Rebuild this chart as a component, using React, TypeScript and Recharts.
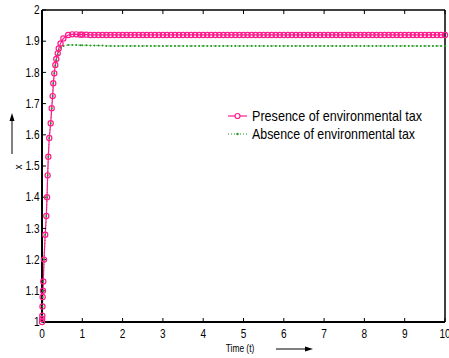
import React from 'react';
import { LineChart, Line, XAxis, YAxis, Legend } from 'recharts';

// time samples: solver steps are dense during the rise, then every 0.1
const TIME = [
  0, 0.004, 0.008, 0.012, 0.016, 0.024, 0.032, 0.05, 0.08, 0.107,
  0.125, 0.14, 0.157, 0.18, 0.216, 0.24, 0.265, 0.28, 0.305, 0.33,
  0.355, 0.39, 0.415, 0.46, 0.53, 0.65, 0.75, 0.85, 0.95,
  1.0, 1.1, 1.2, 1.3, 1.4, 1.5, 1.6, 1.7, 1.8, 1.9,
  2.0, 2.1, 2.2, 2.3, 2.4, 2.5, 2.6, 2.7, 2.8, 2.9,
  3.0, 3.1, 3.2, 3.3, 3.4, 3.5, 3.6, 3.7, 3.8, 3.9,
  4.0, 4.1, 4.2, 4.3, 4.4, 4.5, 4.6, 4.7, 4.8, 4.9,
  5.0, 5.1, 5.2, 5.3, 5.4, 5.5, 5.6, 5.7, 5.8, 5.9,
  6.0, 6.1, 6.2, 6.3, 6.4, 6.5, 6.6, 6.7, 6.8, 6.9,
  7.0, 7.1, 7.2, 7.3, 7.4, 7.5, 7.6, 7.7, 7.8, 7.9,
  8.0, 8.1, 8.2, 8.3, 8.4, 8.5, 8.6, 8.7, 8.8, 8.9,
  9.0, 9.1, 9.2, 9.3, 9.4, 9.5, 9.6, 9.7, 9.8, 9.9,
  10.0,
];

const PRESENCE = [
  1.0, 1.01, 1.02, 1.05, 1.08, 1.1, 1.13, 1.2, 1.28, 1.34,
  1.4, 1.47, 1.53, 1.59, 1.637, 1.685, 1.724, 1.765, 1.797, 1.824,
  1.843, 1.861, 1.877, 1.893, 1.909, 1.92, 1.922, 1.922, 1.921,
  1.921, 1.921, 1.92, 1.92, 1.92, 1.92, 1.92, 1.92, 1.92, 1.92,
  1.92, 1.92, 1.92, 1.92, 1.92, 1.92, 1.92, 1.92, 1.92, 1.92,
  1.92, 1.92, 1.92, 1.92, 1.92, 1.92, 1.92, 1.92, 1.92, 1.92,
  1.92, 1.92, 1.92, 1.92, 1.92, 1.92, 1.92, 1.92, 1.92, 1.92,
  1.92, 1.92, 1.92, 1.92, 1.92, 1.92, 1.92, 1.92, 1.92, 1.92,
  1.92, 1.92, 1.92, 1.92, 1.92, 1.92, 1.92, 1.92, 1.92, 1.92,
  1.92, 1.92, 1.92, 1.92, 1.92, 1.92, 1.92, 1.92, 1.92, 1.92,
  1.92, 1.92, 1.92, 1.92, 1.92, 1.92, 1.92, 1.92, 1.92, 1.92,
  1.92, 1.92, 1.92, 1.92, 1.92, 1.92, 1.92, 1.92, 1.92, 1.92,
  1.92,
];

const ABSENCE = [
  1.0, 1.01, 1.02, 1.05, 1.08, 1.1, 1.13, 1.2, 1.28, 1.34,
  1.4, 1.47, 1.53, 1.59, 1.637, 1.685, 1.724, 1.765, 1.797, 1.822,
  1.84, 1.857, 1.868, 1.879, 1.885, 1.888, 1.888, 1.888, 1.887,
  1.887, 1.887, 1.886, 1.886, 1.886, 1.886, 1.885, 1.885, 1.885, 1.885,
  1.885, 1.885, 1.885, 1.885, 1.885, 1.885, 1.885, 1.885, 1.885, 1.885,
  1.885, 1.885, 1.885, 1.885, 1.885, 1.885, 1.885, 1.885, 1.885, 1.885,
  1.885, 1.885, 1.885, 1.885, 1.885, 1.885, 1.885, 1.885, 1.885, 1.885,
  1.885, 1.885, 1.885, 1.885, 1.885, 1.885, 1.885, 1.885, 1.885, 1.885,
  1.885, 1.885, 1.885, 1.885, 1.885, 1.885, 1.885, 1.885, 1.885, 1.885,
  1.885, 1.885, 1.885, 1.885, 1.885, 1.885, 1.885, 1.885, 1.885, 1.885,
  1.885, 1.885, 1.885, 1.885, 1.885, 1.885, 1.885, 1.885, 1.885, 1.885,
  1.885, 1.885, 1.885, 1.885, 1.885, 1.885, 1.885, 1.885, 1.885, 1.885,
  1.885,
];

const X_TICKS = [0, 1, 2, 3, 4, 5, 6, 7, 8, 9, 10];
const Y_TICKS = [1, 1.1, 1.2, 1.3, 1.4, 1.5, 1.6, 1.7, 1.8, 1.9, 2];

const SERIES_NAMES = ['Presence of environmental tax', 'Absence of environmental tax'];

const PINK = '#ff1a8c';
const GREEN = '#1f9a1f';
const FONT = "'Liberation Sans', Arial, sans-serif";
const NARROW = 0.84;

const data = TIME.map((t, i) => ({ t, presence: PRESENCE[i], absence: ABSENCE[i] }));

// narrow Helvetica look: squeeze the glyphs horizontally around the anchor
function XTick(props: any) {
  const { x, y, payload } = props;
  return (
    <text transform={`translate(${x},${y}) scale(${NARROW},1)`} textAnchor="middle" dy="0.71em" fontSize={12} fontFamily={FONT} fill="#000">
      {payload.value}
    </text>
  );
}

function YTick(props: any) {
  const { x, y, payload } = props;
  const label = String(Math.round(payload.value * 10) / 10);
  return (
    <text transform={`translate(${x},${y}) scale(${NARROW},1)`} textAnchor="end" dy="0.355em" fontSize={12} fontFamily={FONT} fill="#000">
      {label}
    </text>
  );
}

const NoTick = () => <g />;

function LegendBox() {
  return (
    <svg width={210} height={40} style={{ display: 'block', overflow: 'visible' }}>
      <line x1={2} x2={21} y1={10} y2={10} stroke={PINK} strokeWidth={1.2} />
      <circle cx={11.5} cy={10} r={2.5} fill="#fff" stroke={PINK} strokeWidth={1.2} />
      <text x={26} y={15} fontSize={15} fontFamily={FONT} fill="#000" textLength={170} lengthAdjust="spacingAndGlyphs">{SERIES_NAMES[0]}</text>
      <line x1={2} x2={21} y1={28} y2={28} stroke={GREEN} strokeWidth={1} strokeDasharray="1 2" />
      <circle cx={11.5} cy={28} r={1.2} fill={GREEN} />
      <text x={26} y={33} fontSize={15} fontFamily={FONT} fill="#000" textLength={163} lengthAdjust="spacingAndGlyphs">{SERIES_NAMES[1]}</text>
    </svg>
  );
}

export default function App() {
  return (
    <div style={{ position: 'absolute', left: 0, top: 0, width: 449, height: 358, background: '#fff' }}>
      <LineChart width={449} height={358} data={data} margin={{ top: 9, right: 3, bottom: 0, left: 0 }}>
        <XAxis
          type="number"
          dataKey="t"
          domain={[0, 10]}
          ticks={X_TICKS}
          interval={0}
          height={36}
          tickSize={-4}
          tickMargin={11.5}
          axisLine={{ stroke: '#000', strokeWidth: 2 }}
          tickLine={{ stroke: '#000' }}
          tick={<XTick />}
        />
        <XAxis
          xAxisId="top"
          orientation="top"
          type="number"
          dataKey="t"
          domain={[0, 10]}
          ticks={X_TICKS}
          interval={0}
          height={1}
          tickSize={-4}
          axisLine={{ stroke: '#000', strokeWidth: 1.5 }}
          tickLine={{ stroke: '#000' }}
          tick={<NoTick />}
        />
        <YAxis
          type="number"
          domain={[1, 2]}
          ticks={Y_TICKS}
          interval={0}
          width={42}
          tickSize={-4}
          tickMargin={6.5}
          axisLine={{ stroke: '#000', strokeWidth: 2 }}
          tickLine={{ stroke: '#000' }}
          tick={<YTick />}
        />
        <YAxis
          yAxisId="right"
          orientation="right"
          type="number"
          domain={[1, 2]}
          ticks={Y_TICKS}
          interval={0}
          width={1}
          tickSize={-4}
          axisLine={{ stroke: '#000', strokeWidth: 1.5 }}
          tickLine={{ stroke: '#000' }}
          tick={<NoTick />}
        />
        <Legend
          layout="vertical"
          align="center"
          verticalAlign="middle"
          content={() => <LegendBox />}
          wrapperStyle={{ position: 'absolute', left: 226, top: 106, width: 210, height: 40 }}
        />
        <Line
          dataKey="absence"
          name={SERIES_NAMES[1]}
          stroke={GREEN}
          strokeWidth={1}
          strokeDasharray="1 2"
          dot={{ r: 1, stroke: 'none', fill: GREEN }}
          isAnimationActive={false}
        />
        <Line
          dataKey="presence"
          name={SERIES_NAMES[0]}
          stroke={PINK}
          strokeWidth={1.2}
          dot={{ r: 2.6, stroke: PINK, strokeWidth: 1.2, fill: 'none' }}
          isAnimationActive={false}
        />
      </LineChart>
      <svg width={449} height={358} style={{ position: 'absolute', left: 0, top: 0, pointerEvents: 'none' }}>
        <line x1={12} y1={154} x2={12} y2={120} stroke="#000" strokeWidth={1} />
        <polygon points="12,113 9.5,121 14.5,121" fill="#000" />
        <text transform="translate(22,167) rotate(-90)" fontSize={10} fontFamily={FONT} textAnchor="middle" fill="#000">x</text>
        <text transform={`translate(240,352) scale(${NARROW},1)`} fontSize={10} fontFamily={FONT} textAnchor="middle" fill="#000">Time (t)</text>
        <line x1={276} y1={349} x2={306} y2={349} stroke="#000" strokeWidth={1} />
        <polygon points="313,349 305,346.5 305,351.5" fill="#000" />
      </svg>
    </div>
  );
}
